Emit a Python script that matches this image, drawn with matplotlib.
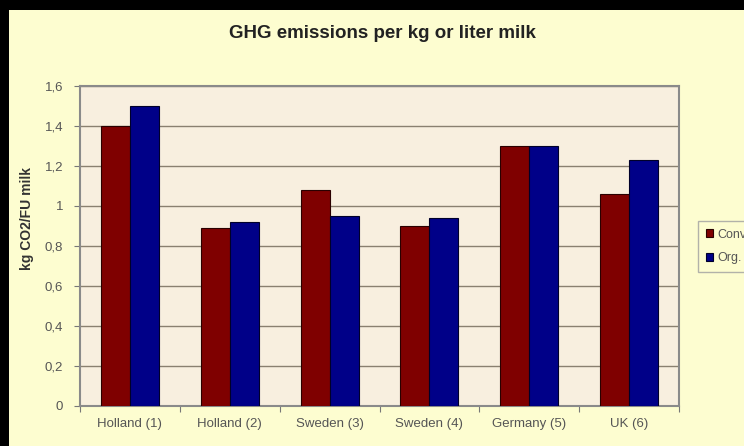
import matplotlib
matplotlib.use("Agg")
import matplotlib.pyplot as plt
import numpy as np
from matplotlib.patches import Rectangle

categories = ["Holland (1)", "Holland (2)", "Sweden (3)", "Sweden (4)", "Germany (5)", "UK (6)"]
conv = [1.40, 0.89, 1.08, 0.90, 1.30, 1.06]
org = [1.50, 0.92, 0.95, 0.94, 1.30, 1.23]
series_names = ["Conv.", "Org."]
yticks = [0, 0.2, 0.4, 0.6, 0.8, 1, 1.2, 1.4, 1.6]
ytick_labels = ["0", "0,2", "0,4", "0,6", "0,8", "1", "1,2", "1,4", "1,6"]

plt.rcParams['font.family'] = ['Liberation Sans', 'DejaVu Sans']
W, H = 744, 446
fig = plt.figure(figsize=(W/100, H/100), dpi=100, facecolor='black')
# pale yellow panel
fig.patches.append(Rectangle((9/W, 0), 1 - 9/W, 1 - 10/H, transform=fig.transFigure,
                             facecolor='#fdfdd0', edgecolor='none', zorder=-5))

ax = fig.add_axes([80/W, 1 - 406/H, (679-80)/W, (406-86)/H])
ax.set_zorder(2)
ax.set_facecolor('#f8efdf')
x = np.arange(len(categories))
w = 0.29
ax.bar(x - w/2, conv, w, color='#7f0000', edgecolor='#2a0000', linewidth=0.8, label=series_names[0], zorder=3)
ax.bar(x + w/2, org, w, color='#000088', edgecolor='#00002a', linewidth=0.8, label=series_names[1], zorder=3)
ax.set_xlim(-0.5, len(categories) - 0.5)
ax.set_ylim(0, 1.6)
ax.set_yticks(yticks)
ax.set_yticklabels(ytick_labels)
ax.set_xticks(np.arange(len(categories) + 1) - 0.5, minor=False)
ax.set_xticklabels([])
ax.set_xticks(x, minor=True)
ax.set_xticklabels(categories, minor=True)
ax.tick_params(axis='x', which='minor', length=0, pad=9, labelsize=9.5, labelcolor='#555555')
ax.tick_params(axis='x', which='major', length=4, direction='out', color='#777777')
ax.tick_params(axis='y', length=4, direction='out', color='#777777', labelsize=9.5, labelcolor='#555555', pad=8)
ax.yaxis.grid(True, color='#8a8070', linewidth=1.0, zorder=1)
ax.set_axisbelow(True)
for s in ax.spines.values():
    s.set_color('#8a8a8a')
    s.set_linewidth(1.5)
ax.set_ylabel("kg CO2/FU milk", fontsize=10, fontweight='bold', color='#333333')
ax.yaxis.set_label_coords((34 - 80) / (679 - 80), (406 - 219) / (406 - 86))
fig.text(382/W, 1 - 33/H, "GHG emissions per kg or liter milk", ha='center', va='center',
         fontsize=13.5, fontweight='bold', color='#222222')
leg = ax.legend(loc='upper left', bbox_to_anchor=(692/W, 1 - 215/H), bbox_transform=fig.transFigure,
                fontsize=9, frameon=True, fancybox=False, handlelength=0.6, handleheight=0.6,
                handletextpad=0.3, borderpad=0.6, labelspacing=0.9, labelcolor='#555555')
leg.get_frame().set_facecolor('#fdfdd0')
leg.get_frame().set_edgecolor('#a0a0a0')
fig.savefig("out.png", dpi=100, facecolor='black')
